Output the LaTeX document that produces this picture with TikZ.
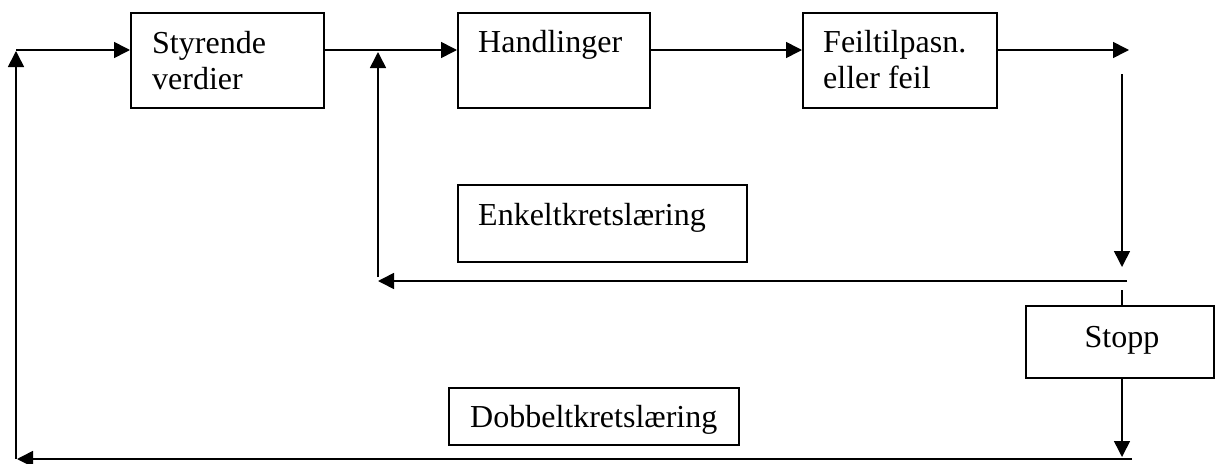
\documentclass[tikz,border=0pt]{standalone}
\usepackage{fontspec}
\setmainfont{Liberation Serif}
\usetikzlibrary{arrows.meta}
\begin{document}
\begin{tikzpicture}[x=1pt,y=-1pt,
  box/.style={draw,line width=1.6pt,inner sep=0pt,anchor=north west},
  txt/.style={inner sep=0pt,anchor=base west,align=left,font=\fontsize{32}{36}\selectfont},
  arr/.style={line width=1.6pt,-{Triangle[length=16pt,width=16pt]}},
  ln/.style={line width=1.6pt}]
\useasboundingbox (0,0) rectangle (1215,463);
% boxes
\node[box,minimum width=193pt,minimum height=95pt] (sv) at (130,12) {};
\node[box,minimum width=192pt,minimum height=95pt] (hd) at (457,12) {};
\node[box,minimum width=194pt,minimum height=95pt] (ft) at (802,12) {};
\node[box,minimum width=289pt,minimum height=77pt] (en) at (457,184) {};
\node[box,minimum width=188pt,minimum height=72pt] (st) at (1025,305) {};
\node[box,minimum width=290pt,minimum height=57pt] (db) at (448,387) {};
% texts
\node[txt] (svt) at (152,89) {Styrende\\verdier};
\node[txt] (hdt) at (478,52) {Handlinger};
\node[txt] (ftt) at (823,88) {Feiltilpasn.\\eller feil};
\node[txt] (ent) at (478,225) {Enkeltkretslæring};
\node[txt,anchor=base] (stt) at (1122,347) {Stopp};
\node[txt] (dbt) at (470,427) {Dobbeltkretslæring};
% coordinates
\coordinate (tl) at (16,50);
\coordinate (bl) at (16,459);
\coordinate (br) at (1132,459);
\coordinate (tr) at (1129,50);
\coordinate (ma) at (378,277);
\coordinate (mt) at (378,52);
\coordinate (ra) at (1122,74);
\coordinate (rb) at (1122,267);
\coordinate (ea) at (1127,281);
\coordinate (eb) at (378,281);
\coordinate (sa) at (1122,290);
\coordinate (sb) at (1122,457);
% connectors
\draw[arr] (bl) -- (16,51);
\draw[arr] (tl) -- (sv.west |- tl);
\draw[arr] (sv.east |- tl) -- (hd.west |- tl);
\draw[arr] (hd.east |- tl) -- (ft.west |- tl);
\draw[arr] (ft.east |- tl) -- (tr);
\draw[arr] (ma) -- (mt);
\draw[arr] (ra) -- (rb);
\draw[arr] (ea) -- (eb);
\draw[ln] (sa) -- (sa |- st.north);
\draw[arr] (sa |- st.south) -- (sb);
\draw[arr] (br) -- (17,459);
\end{tikzpicture}
\end{document}
